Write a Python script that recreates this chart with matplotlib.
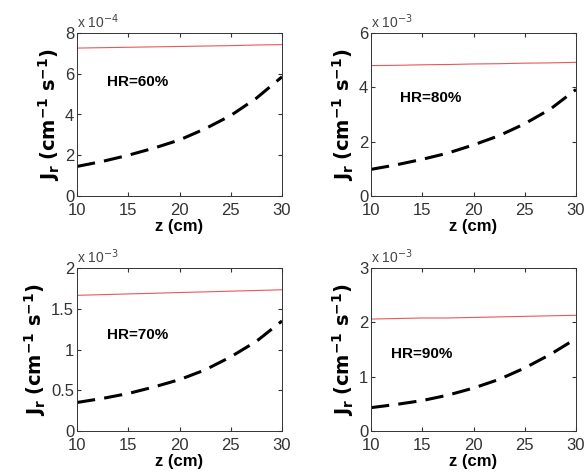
import matplotlib.pyplot as plt

plt.rcParams['font.family'] = ['Liberation Sans', 'DejaVu Sans']

z = [10, 12.5, 15, 17.5, 20, 22.5, 25, 27.5, 30]

# values in units of 10^exp
labels = ['HR=60%', 'HR=80%', 'HR=70%', 'HR=90%']
exps = [-4, -3, -3, -3]
ymax = [8, 6, 2, 3]
yticks = [[0, 2, 4, 6, 8], [0, 2, 4, 6], [0, 0.5, 1, 1.5, 2], [0, 1, 2, 3]]
red_lines = [
    [7.26, 7.28, 7.30, 7.32, 7.34, 7.36, 7.38, 7.41, 7.43],
    [4.80, 4.81, 4.83, 4.84, 4.86, 4.87, 4.89, 4.90, 4.92],
    [1.665, 1.673, 1.682, 1.690, 1.699, 1.707, 1.716, 1.724, 1.733],
    [2.06, 2.07, 2.08, 2.08, 2.09, 2.10, 2.11, 2.12, 2.13],
]
dashed = [
    [1.45, 1.70, 2.00, 2.35, 2.75, 3.30, 3.95, 4.80, 5.85],
    [0.98, 1.15, 1.35, 1.58, 1.88, 2.22, 2.66, 3.20, 3.92],
    [0.35, 0.40, 0.46, 0.54, 0.63, 0.75, 0.91, 1.10, 1.35],
    [0.43, 0.49, 0.56, 0.66, 0.79, 0.95, 1.16, 1.41, 1.70],
]
text_pos = [(0.145, 0.70), (0.14, 0.60), (0.145, 0.59), (0.10, 0.47)]

W, H = 588, 473
boxes = [(77, 33), (371, 33), (77, 268), (371, 268)]
aw, ah = 205, 163

fig = plt.figure(figsize=(W / 100, H / 100), dpi=100)
for i in range(4):
    l, t = boxes[i]
    ax = fig.add_axes([l / W, 1 - (t + ah) / H, aw / W, ah / H])
    ax.plot(z, red_lines[i], color='#e8585a', lw=0.8)
    ax.plot(z, dashed[i], color='black', lw=2.2, ls=(0, (6, 3)))
    ax.set_xlim(10, 30)
    ax.set_ylim(0, ymax[i])
    ax.set_xticks([10, 15, 20, 25, 30])
    ax.set_yticks(yticks[i])
    ax.set_yticklabels([('%g' % v) for v in yticks[i]])
    ax.tick_params(direction='in', top=True, right=True, labelsize=12, length=3,
                   colors='#333333')
    ax.tick_params(axis='x', pad=5)
    ax.tick_params(axis='y', pad=2)
    for s in ax.spines.values():
        s.set_linewidth(0.7)
        s.set_color('#333333')
    ax.set_xlabel('z (cm)', fontsize=12, fontweight='bold', labelpad=1)
    ax.set_ylabel(r'$\mathbf{J_r}$ $\mathbf{(cm^{-1}\ s^{-1})}$', fontsize=14, labelpad=2)
    ax.text(0.0, 1.01, r'x 10$^{%d}$' % exps[i], transform=ax.transAxes,
            fontsize=10, color='#444444', ha='left', va='bottom')
    ax.text(text_pos[i][0], text_pos[i][1], labels[i], transform=ax.transAxes,
            fontsize=11, fontweight='bold', va='center')

fig.savefig('out.png', dpi=100)
